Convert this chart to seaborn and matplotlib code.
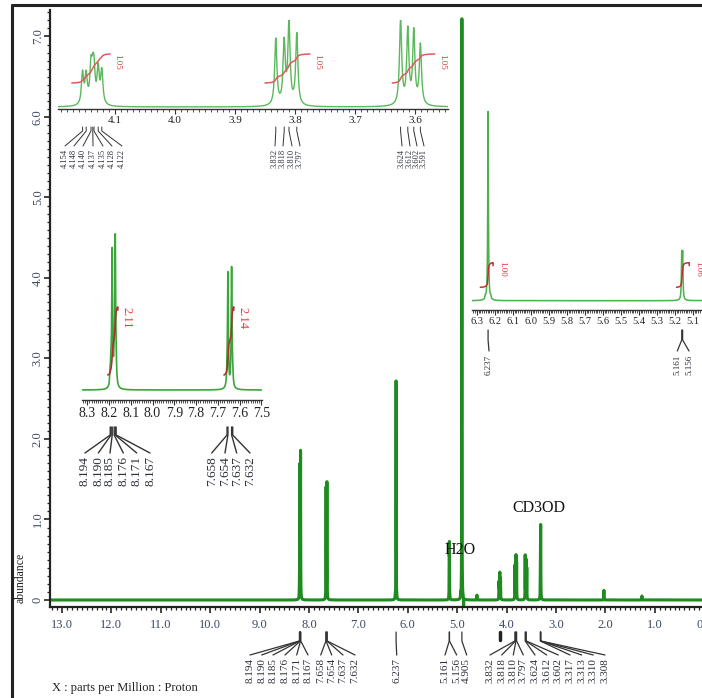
import numpy as np
import matplotlib
matplotlib.use('Agg')
import matplotlib.pyplot as plt
import seaborn as sns
from matplotlib.lines import Line2D
from matplotlib.ticker import MultipleLocator, FormatStrFormatter

# peak list: shift (ppm) and height (abundance)
peak_ppm = [8.194, 8.190, 8.185, 8.176, 8.171, 8.167,
            7.658, 7.654, 7.637, 7.632,
            6.252, 6.237, 6.222,
            5.161, 5.156, 4.930, 4.905, 4.870, 4.600,
            4.154, 4.148, 4.140, 4.137, 4.135, 4.128, 4.122,
            3.832, 3.818, 3.810, 3.797,
            3.624, 3.612, 3.602, 3.591,
            3.317, 3.313, 3.310, 3.308,
            2.030, 1.260]
peak_height = [0.15, 0.20, 1.60, 0.20, 1.75, 0.15,
               0.10, 1.36, 1.43, 0.10,
               0.04, 2.72, 0.04,
               0.62, 0.62, 0.05, 7.22, -0.10, 0.06,
               0.20, 0.18, 0.22, 0.14, 0.18, 0.22, 0.21,
               0.42, 0.39, 0.52, 0.45,
               0.54, 0.47, 0.46, 0.38,
               0.30, 0.55, 0.50, 0.40,
               0.12, 0.05]

# labelled peaks
main_marks = [8.194, 8.190, 8.185, 8.176, 8.171, 8.167, 7.658, 7.654, 7.637, 7.632,
              6.237, 5.161, 5.156, 4.905, 3.832, 3.818, 3.810, 3.797,
              3.624, 3.612, 3.602, 3.317, 3.313, 3.310, 3.308]
zoom1_marks = [4.154, 4.148, 4.140, 4.137, 4.135, 4.128, 4.122,
               3.832, 3.818, 3.810, 3.797, 3.624, 3.612, 3.602, 3.591]
zoom2_marks = [8.194, 8.190, 8.185, 8.176, 8.171, 8.167, 7.658, 7.654, 7.637, 7.632]
zoom3_marks = [6.237, 5.161, 5.156]

# integrals: (from ppm, to ppm, value)
zoom1_integrals = [(4.172, 4.108, '1.05'), (3.850, 3.775, '1.05'), (3.638, 3.567, '1.05')]
zoom2_integrals = [(8.205, 8.160, '2.11'), (7.672, 7.628, '2.14')]
zoom3_integrals = [(6.280, 6.210, '1.00'), (5.190, 5.120, '1.06')]

y_ticks = [0, 1, 2, 3, 4, 5, 6, 7]
y_tick_labels = ['0', '1.0', '2.0', '3.0', '4.0', '5.0', '6.0', '7.0']

W, H = 702, 698
SERIF = ['Liberation Serif', 'DejaVu Serif']
TICK_COL = '#3c4866'
TEXT_COL = '#2b2f3a'

sns.set_style('ticks')
plt.rcParams['font.family'] = SERIF

grid = np.arange(-0.6, 13.6, 0.0002)
hw = 0.0022
spec = np.zeros_like(grid)
for p, h in zip(peak_ppm, peak_height):
    spec += h / (1 + ((grid - p) / hw) ** 2)

fig = plt.figure(figsize=(W / 100, H / 100), dpi=100)


def fx(x):
    return x / W


def fy(y):
    return 1 - y / H


def add_ax(left, right, top, bottom):
    a = fig.add_axes([fx(left), fy(bottom), (right - left) / W, (bottom - top) / H])
    a.set_facecolor('none')
    return a


def draw_spec(ax, lo, hi, color, lw):
    m = (grid >= lo) & (grid <= hi)
    sns.lineplot(x=grid[m], y=spec[m], ax=ax, color=color, linewidth=lw,
                 estimator=None, sort=False)


def zoom_axis(ax, xlim, ylim, size):
    ax.set_xlim(*xlim)
    ax.set_ylim(*ylim)
    for s in ['top', 'right', 'left']:
        ax.spines[s].set_visible(False)
    ax.spines['bottom'].set_linewidth(1.0)
    ax.spines['bottom'].set_color('#333333')
    ax.set_yticks([])
    ax.xaxis.set_major_locator(MultipleLocator(0.1))
    ax.xaxis.set_minor_locator(MultipleLocator(0.01))
    ax.xaxis.set_major_formatter(FormatStrFormatter('%.1f'))
    ax.tick_params(axis='x', which='major', direction='out', length=3.5, width=0.8,
                   labelsize=size, pad=1.5, colors='#333333', labelcolor='#222222')
    ax.tick_params(axis='x', which='minor', direction='out', length=2, width=0.6,
                   colors='#333333')
    ax.set_xlabel('')
    ax.set_ylabel('')


def integrals(ax, items, y0, rise, scale, color, lw, dx, dy, size, hook=0):
    for a, b, val in items:
        m = (grid <= a) & (grid >= b)
        xs = grid[m][::-1]
        c = np.cumsum(np.clip(spec[m][::-1], 0, None))
        yy = y0 / scale + c / c[-1] * rise / scale
        if hook:
            xs = np.append(xs, xs[-1] - 0.001 * hook)
            yy = np.append(yy, yy[-1])
            xs = np.append(xs, xs[-1])
            yy = np.append(yy, yy[-1] - 3 / scale)
        sns.lineplot(x=xs, y=yy, ax=ax, color=color, linewidth=lw,
                     estimator=None, sort=False)
        ax.annotate(val, xy=(b, yy.max()), xytext=(dx, dy), textcoords='offset pixels',
                    rotation=-90, ha='center', va='center', fontsize=size,
                    color='#e03a3a')


def peak_marks(ax, ppms, label_px, y0, y1, y2, y3, size, lw=0.9):
    for p, lx in zip(ppms, label_px):
        px = ax.transData.transform((p, 0))[0]
        fig.add_artist(Line2D([fx(px), fx(px), fx(lx)], [fy(y0), fy(y1), fy(y2)],
                              color='#333333', lw=lw))
        fig.text(fx(lx), fy(y3), f'{p:.3f}', rotation=90, ha='center', va='top',
                 fontsize=size, color=TEXT_COL)


# main spectrum
ax = add_ax(50, 720, 10, 607)
draw_spec(ax, -0.6, 13.6, '#1f8a1f', 2.2)
ax.set_xlim(13.243, -0.32)
ax.set_ylim(-0.087, 7.329)
ax.xaxis.set_major_locator(MultipleLocator(1))
ax.xaxis.set_minor_locator(MultipleLocator(0.1))
ax.xaxis.set_major_formatter(FormatStrFormatter('%.1f'))
ax.set_yticks(y_ticks)
ax.set_yticklabels(y_tick_labels, rotation=90, va='center')
ax.yaxis.set_minor_locator(MultipleLocator(0.1))
for s in ['top', 'right']:
    ax.spines[s].set_visible(False)
for s in ['left', 'bottom']:
    ax.spines[s].set_linewidth(1.6)
    ax.spines[s].set_color('#222222')
ax.tick_params(which='major', direction='out', length=4, width=1.2, labelsize=9,
               labelcolor=TICK_COL, colors='#222222')
ax.tick_params(axis='x', which='major', pad=5)
ax.tick_params(axis='y', which='major', pad=0.5)
ax.tick_params(which='minor', direction='out', length=2.5, width=0.9, colors='#222222')
ax.set_xlabel('')
ax.set_ylabel('')
ax.text(4.943, 0.62, 'H2O', fontsize=11.5, ha='center', va='center', color='#111111')
ax.text(3.344, 1.14, 'CD3OD', fontsize=11.5, ha='center', va='center', color='#111111')

# zoomed views
z1 = add_ax(58, 448, 20, 109)
draw_spec(z1, 3.5, 4.25, '#5cb85c', 1.0)
zoom_axis(z1, (4.195, 3.545), (-0.0127, 0.5506), 8)
integrals(z1, zoom1_integrals, 24, 29, 158, '#e05a5a', 1.1, 7, -8, 6.5)

z2 = add_ax(81.7, 261.7, 220, 400)
draw_spec(z2, 7.45, 8.4, '#3aa53a', 1.2)
zoom_axis(z2, (8.325, 7.499), (-0.119, 2.024), 10)
integrals(z2, zoom2_integrals, 15, 68, 84, '#b03030', 1.2, 9, -11, 9, hook=1)

z3 = add_ax(471.7, 710, 100, 310)
draw_spec(z3, 4.95, 6.4, '#4cb04c', 1.1)
zoom_axis(z3, (6.328, 5.004), (-0.134, 2.888), 7.5)
integrals(z3, zoom3_integrals, 13.4, 24.6, 69.5, '#c03030', 1.1, 9, -6, 6.5, hook=1)

# peak pick labels
main_label_px = [250, 261.7, 273, 285, 296.7, 308, 320.7, 331.7, 343, 355, 396.7,
                 445, 456.7, 466.7, 490, 501.7, 513.3, 523.3, 535, 546.7, 558.3,
                 570, 581.7, 593.3, 605]
peak_marks(ax, main_marks, main_label_px, 632, 641, 655, 658, 8)
bar_x = ax.transData.transform((4.14, 0))[0]
fig.add_artist(Line2D([fx(bar_x)] * 2, [fy(632), fy(640)], color='#222222', lw=2.5))

zoom1_label_px = [65, 74, 83, 93, 103, 112, 122, 275, 283, 292, 300, 402, 410, 417, 424]
peak_marks(z1, zoom1_marks, zoom1_label_px, 127, 131, 146, 149, 6, lw=0.7)

zoom2_label_px = [85, 98.3, 110, 123.3, 136.7, 150, 211.7, 225, 236.7, 250]
peak_marks(z2, zoom2_marks, zoom2_label_px, 427, 435, 453, 456, 9.5, lw=1.0)

zoom3_label_px = [489, 677.3, 689]
peak_marks(z3, zoom3_marks, zoom3_label_px, 330, 340, 351, 355, 6.5, lw=0.9)

# axis captions and frame
fig.text(fx(21), fy(578), 'abundance', rotation=90, ha='center', va='center',
         fontsize=8.5, color='#222222')
fig.text(fx(52), fy(688), 'X : parts per Million : Proton', ha='left', va='center',
         fontsize=9, color='#222222')
fig.add_artist(Line2D([fx(12), fx(12)], [fy(5), fy(700)], color='#222222', lw=2.2))
fig.add_artist(Line2D([fx(12), fx(705)], [fy(5), fy(5)], color='#222222', lw=2.2))

fig.savefig('out.png', dpi=100)
